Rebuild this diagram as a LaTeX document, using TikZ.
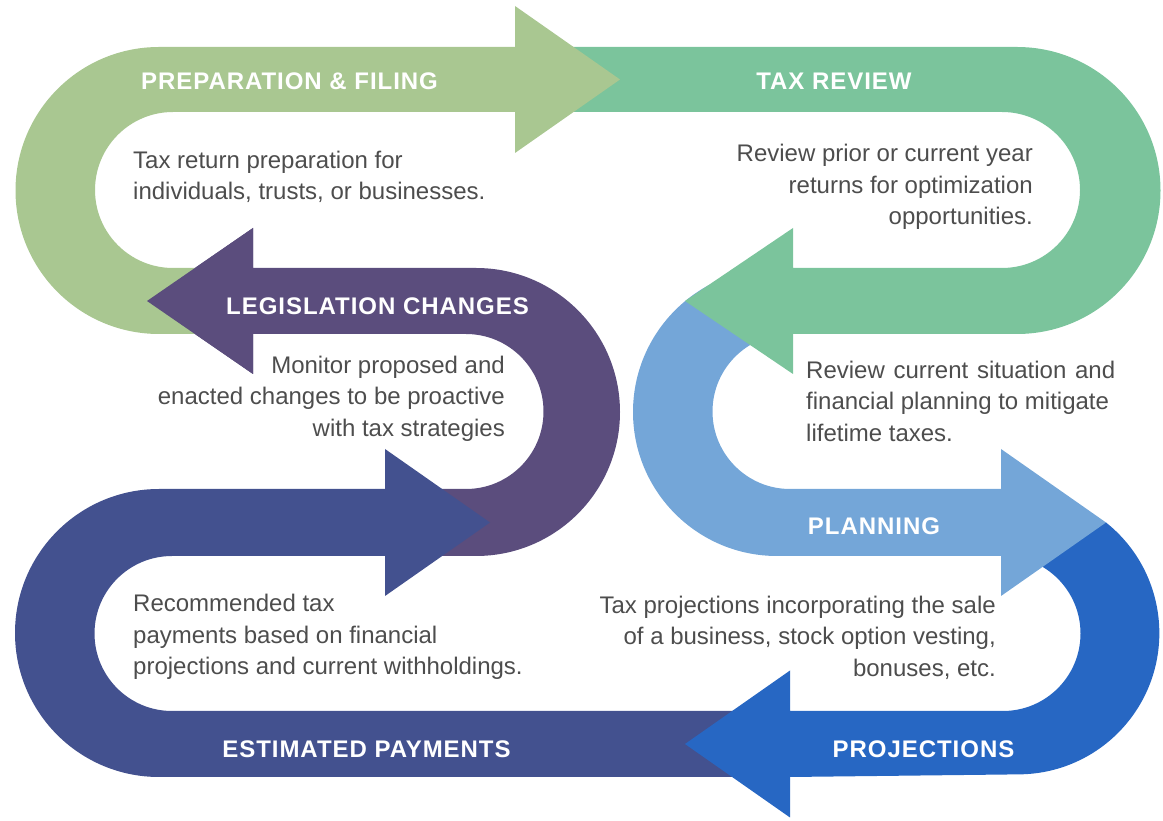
\documentclass[tikz,border=0pt]{standalone}
\usepackage{fontspec}
\setmainfont{Liberation Sans}
\newfontfamily\headfont[LetterSpace=4]{Liberation Sans}
\usepackage{tikz}
\usetikzlibrary{positioning}

\definecolor{prepgreen}{HTML}{A9C791}
\definecolor{reviewgreen}{HTML}{7BC49C}
\definecolor{planblue}{HTML}{74A6D8}
\definecolor{projblue}{HTML}{2767C3}
\definecolor{payblue}{HTML}{43518F}
\definecolor{legpurple}{HTML}{5B4D7D}
\definecolor{notegray}{HTML}{4D4D4D}

\begin{document}
\begin{tikzpicture}[x=1pt, y=1pt]
        \tikzstyle{title}=[text=white, inner sep=0pt, font=\headfont\bfseries\fontsize{24}{28}\selectfont]
        \tikzstyle{note}=[text=notegray, inner sep=0pt, font=\fontsize{24}{31.7}\selectfont]

        \useasboundingbox (0,0) rectangle (1163,820);

        % the bands, each one drawn under the head of the one before it
        \fill[legpurple] (420,264) -- (476,264) arc[start angle=-90, end angle=90, radius=144]
            -- (253,552) -- (253,592) -- (147,519) -- (253,446) -- (253,486)
            -- (466,486) arc[start angle=90, end angle=-90, radius=77.5] -- (420,331) -- cycle;
        \fill[payblue] (760,109) -- (172,109) arc[start angle=270, end angle=90, radius=77.5]
            -- (385,264) -- (385,224) -- (490,297.5) -- (385,371) -- (385,331)
            -- (159,331) arc[start angle=90, end angle=270, radius=144] -- (760,43) -- cycle;
        \fill[projblue] (1010,297.5) -- (1106,297.5) arc[start angle=51.5, end angle=-90, radius=141.3]
            -- (790,43) -- (790,2.5) -- (685,76) -- (790,149.5) -- (790,109)
            -- (1003,109) arc[start angle=-90, end angle=90, radius=77.5] -- (1010,264) -- cycle;
        \fill[planblue] (760,552) -- (777,552) arc[start angle=90, end angle=270, radius=144]
            -- (1001,264) -- (1001,224) -- (1106,297.5) -- (1001,371) -- (1001,331)
            -- (790,331) arc[start angle=270, end angle=90, radius=77.5] -- (760,486) -- cycle;
        \fill[reviewgreen] (540,773) -- (1017,773) arc[start angle=90, end angle=-90, radius=143.5]
            -- (793,486) -- (793,446) -- (685,519) -- (793,592) -- (793,552)
            -- (1002,552) arc[start angle=-90, end angle=90, radius=78] -- (540,708) -- cycle;
        \fill[prepgreen] (240,486) -- (159,486) arc[start angle=270, end angle=90, radius=143.5]
            -- (515,773) -- (515,814) -- (620,740.5) -- (515,667) -- (515,708)
            -- (173,708) arc[start angle=90, end angle=270, radius=78] -- (240,552) -- cycle;
        \fill[legpurple] (253,592) -- (147,519) -- (253,446) -- cycle;

        \node[title] (prep)   at (289.5,738.5) {PREPARATION \& FILING};
        \node[title] (review) at (834,738.5)   {TAX REVIEW};
        \node[title] (leg)    at (377.5,514)   {LEGISLATION CHANGES};
        \node[title] (plan)   at (874,294)     {PLANNING};
        \node[title] (pay)    at (366.5,71)    {ESTIMATED PAYMENTS};
        \node[title] (proj)   at (923.5,71)    {PROJECTIONS};

        % notes sit on the baseline of their last line
        \node[note, anchor=base west, align=left]  (prepnote)   at (133,620)
            {Tax return preparation for\\individuals, trusts, or businesses.};
        \node[note, anchor=base east, align=right] (reviewnote) at (1033,595)
            {Review prior or current year\\returns for optimization\\opportunities.};
        \node[note, anchor=base east, align=right] (legnote)    at (505,383.5)
            {Monitor proposed and\\enacted changes to be proactive\\with tax strategies};
        \node[note, anchor=base west, align=left]  (plannote)   at (806,378.5)
            {\makebox[309pt][s]{Review current situation and}\\financial planning to mitigate\\lifetime taxes.};
        \node[note, anchor=base east, align=right] (projnote)   at (996,143.5)
            {Tax projections incorporating the sale\\of a business, stock option vesting,\\bonuses, etc.};
        \node[note, anchor=base west, align=left]  (paynote)    at (133,145)
            {Recommended tax\\payments based on financial\\projections and current withholdings.};
    \end{tikzpicture}
\end{document}
